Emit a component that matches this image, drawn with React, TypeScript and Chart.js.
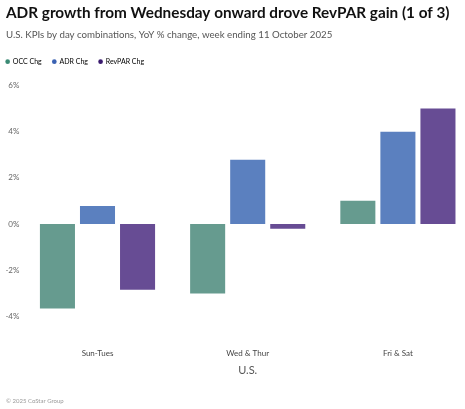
import { Chart, registerables } from "chart.js"
import React, { useEffect, useRef } from "react"

Chart.register(...registerables)

const categories = ["Sun-Tues", "Wed & Thur", "Fri & Sat"]
const seriesNames = ["OCC Chg", "ADR Chg", "RevPAR Chg"]
const occChg = [-3.65, -3.0, 1.0]
const adrChg = [0.78, 2.77, 3.98]
const revparChg = [-2.84, -0.2, 4.99]
const yTicks = [-4, -2, 0, 2, 4, 6]

const barColors = ["#669b8f", "#5b80bf", "#674c94"]
const legendDots = ["#3a8a74", "#3b62b3", "#3a1a6e"]

// the legend's padding also pushes items right, so pull the box back after layout
const legendNudge = {
  id: "legendNudge",
  afterLayout(chart: any) {
    const lg = chart.legend
    if (!lg) return
    lg.left -= 11
    lg.right -= 11
    lg.top -= 9.8
    lg.bottom -= 9.8
  },
}

const footer = {
  id: "footer",
  afterDraw(chart: any) {
    const ctx = chart.ctx
    ctx.save()
    ctx.font = "6px Lato"
    ctx.fillStyle = "#9a9a9a"
    ctx.textBaseline = "middle"
    ctx.fillText("© 2025 CoStar Group", 6, chart.height - 7.5)
    ctx.restore()
  },
}

const KpiChart: React.FC = () => {
  const chartRef = useRef<HTMLCanvasElement>(null)
  const chartInstanceRef = useRef<Chart | null>(null)

  useEffect(() => {
    const ctx = chartRef.current?.getContext("2d")
    if (!ctx) return

    Chart.defaults.font.family = "Lato"

    chartInstanceRef.current = new Chart(ctx, {
      type: "bar",
      data: {
        labels: categories,
        datasets: [occChg, adrChg, revparChg].map((d, i) => ({
          label: seriesNames[i],
          data: d,
          backgroundColor: barColors[i],
          categoryPercentage: 0.8,
          barPercentage: 0.875,
        })),
      },
      options: {
        animation: false,
        responsive: true,
        maintainAspectRatio: false,
        layout: { padding: { left: 6, right: 8, top: 0, bottom: 28.4 } },
        plugins: {
          title: {
            display: true,
            text: "ADR growth from Wednesday onward drove RevPAR gain (1 of 3)",
            align: "start",
            color: "#111",
            font: { size: 15.3, weight: "bold" },
            padding: { top: 4, bottom: 6.5 },
          },
          subtitle: {
            display: true,
            text: "U.S. KPIs by day combinations, YoY % change, week ending 11 October 2025",
            align: "start",
            color: "#555",
            font: { size: 9.7 },
            padding: { top: 0, bottom: 16.5 },
          },
          legend: {
            position: "top",
            align: "start",
            labels: {
              usePointStyle: true,
              pointStyle: "circle",
              boxWidth: 3.3,
              boxHeight: 3.3,
              padding: 11,
              color: "#888",
              font: { size: 7 },
              generateLabels: () =>
                seriesNames.map((name, i) => ({
                  text: name,
                  fillStyle: legendDots[i],
                  strokeStyle: legendDots[i],
                  lineWidth: 0,
                  pointStyle: "circle",
                  datasetIndex: i,
                  hidden: false,
                })),
            },
          },
          tooltip: { enabled: false },
        },
        scales: {
          x: {
            afterFit: (scale: any) => {
              scale.height = 63.9
            },
            grid: { display: false, drawTicks: false },
            border: { display: false },
            ticks: { color: "#444", font: { size: 8 }, padding: 32 },
            title: {
              display: true,
              text: "U.S.",
              color: "#555",
              font: { size: 11 },
              padding: { top: 5, bottom: 4 },
            },
          },
          y: {
            min: -4,
            max: 6,
            afterBuildTicks: (scale: any) => {
              scale.ticks = yTicks.map((v) => ({ value: v }))
            },
            afterFit: (scale: any) => {
              scale.width = 16.4
            },
            grid: { display: false, drawTicks: false },
            border: { display: false },
            ticks: {
              color: "#666",
              font: { size: 8 },
              padding: 3,
              callback: (v: any) => `${v}%`,
            },
          },
        },
      },
      plugins: [legendNudge, footer],
    })

    return () => {
      chartInstanceRef.current?.destroy()
    }
  }, [])

  return (
    <div
      style={{
        position: "absolute",
        left: 0,
        top: 0,
        width: 465,
        height: 409,
        overflow: "hidden",
        background: "#fff",
      }}
    >
      <div style={{ position: "relative", width: 481, height: 409 }}>
        <canvas ref={chartRef} />
      </div>
    </div>
  )
}

export default KpiChart
